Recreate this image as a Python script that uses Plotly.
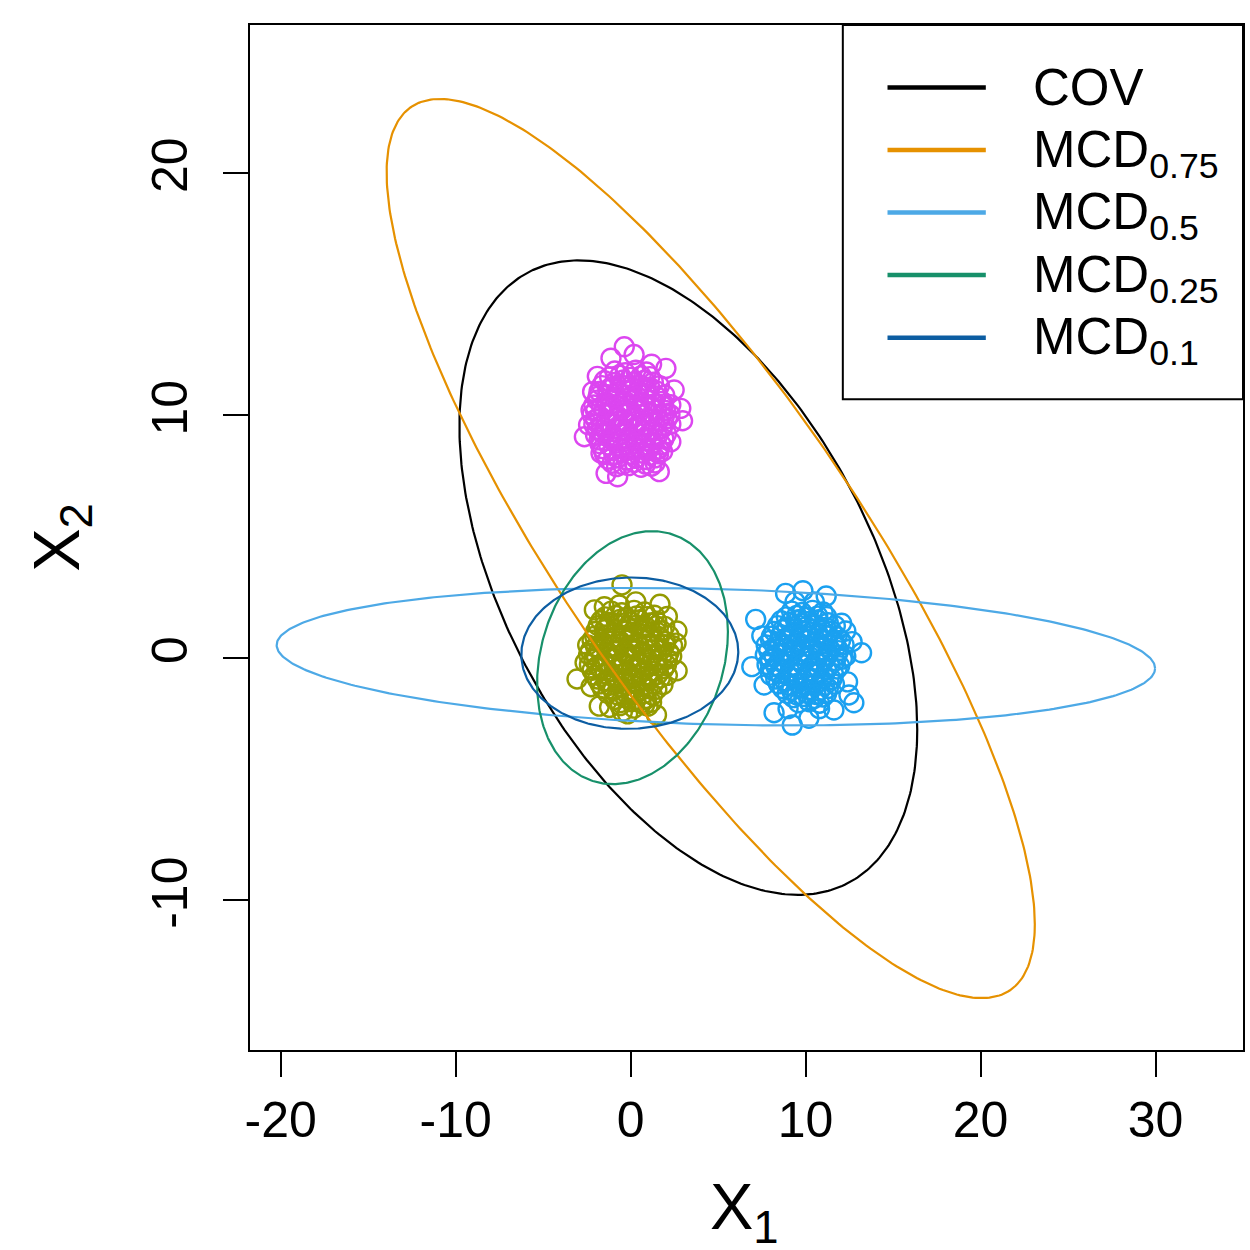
import numpy as np
import plotly.graph_objects as go

# cluster around (0, 0) - olive
olive_x = [-1.1, -0.5, 0.2, 0.8,
           -1.7, -1.2, -0.6, 0.0, 0.5, 1.1, 1.5,
           -2.0, -1.5, -0.9, -0.4, 0.1, 0.7, 1.2, 1.8,
           -2.2, -1.6, -1.1, -0.6, -0.1, 0.4, 0.9, 1.4, 2.0,
           -2.3, -1.8, -1.3, -0.8, -0.3, 0.2, 0.7, 1.2, 1.7, 2.2,
           -2.1, -1.5, -1.0, -0.5, 0.0, 0.5, 1.0, 1.5, 2.1,
           -2.2, -1.7, -1.2, -0.7, -0.2, 0.3, 0.8, 1.3, 1.9,
           -1.9, -1.4, -0.9, -0.4, 0.1, 0.6, 1.1, 1.7,
           -1.6, -1.0, -0.5, 0.0, 0.5, 1.0, 1.5,
           -0.9, -0.3, 0.3, 0.9,
           -1.2, -0.6, 0.2, 0.8,
           -1.45, -0.85, -0.25, 0.35, 0.95, 1.35,
           -1.85, -1.35, -0.75, -0.15, 0.35, 0.9, 1.45, 1.95,
           -2.05, -1.45, -0.85, -0.35, 0.15, 0.65, 1.15, 1.65, 2.2,
           -2.45, -2.0, -1.55, -1.05, -0.55, -0.05, 0.45, 0.95, 1.45, 1.95, 2.4,
           -2.4, -1.95, -1.25, -0.75, -0.25, 0.25, 0.75, 1.25, 1.8, 2.35,
           -2.35, -1.9, -1.45, -0.95, -0.45, 0.05, 0.55, 1.05, 1.55, 2.05,
           -2.05, -1.45, -0.95, -0.45, 0.05, 0.55, 1.05, 1.55, 2.1,
           -1.75, -1.2, -0.7, -0.2, 0.3, 0.8, 1.3, 1.85,
           -1.3, -0.75, -0.25, 0.25, 0.75, 1.25,
           -0.6, 0.05, 0.6, 1.2,
           -0.49, 1.68, 2.10, 2.65, 2.60, 2.66, -3.06, -2.26, -1.79, 1.48,
           -0.17, -0.47, -0.65, -2.07, -1.50, 0.30, 1.00, -2.60]
olive_y = [1.92, 1.85, 1.95, 1.88,
           1.52, 1.45, 1.58, 1.47, 1.55, 1.43, 1.50,
           1.08, 1.15, 1.02, 1.12, 1.05, 1.18, 1.07, 1.10,
           0.72, 0.65, 0.78, 0.68, 0.75, 0.62, 0.73, 0.69, 0.66,
           0.28, 0.35, 0.22, 0.31, 0.26, 0.38, 0.24, 0.33, 0.29, 0.21,
           -0.08, -0.15, -0.05, -0.12, -0.02, -0.18, -0.09, -0.13, -0.06,
           -0.52, -0.45, -0.58, -0.48, -0.55, -0.42, -0.51, -0.57, -0.46,
           -0.88, -0.95, -0.85, -0.92, -0.87, -0.98, -0.90, -0.84,
           -1.28, -1.35, -1.25, -1.32, -1.38, -1.27, -1.30,
           -1.72, -1.65, -1.75, -1.68,
           -2.05, -1.98, -2.08, -1.95,
           1.68, 1.74, 1.66, 1.72, 1.69, 1.75,
           1.32, 1.26, 1.35, 1.28, 1.34, 1.25, 1.31, 1.29,
           0.88, 0.94, 0.85, 0.92, 0.87, 0.95, 0.89, 0.86, 0.91,
           0.52, 0.45, 0.55, 0.48, 0.54, 0.46, 0.51, 0.56, 0.47, 0.53, 0.49,
           0.12, 0.05, 0.14, 0.07, 0.11, 0.04, 0.13, 0.08, 0.10, 0.06,
           -0.28, -0.35, -0.26, -0.33, -0.29, -0.36, -0.27, -0.31, -0.34, -0.30,
           -0.72, -0.66, -0.75, -0.68, -0.74, -0.65, -0.71, -0.69, -0.73,
           -1.08, -1.14, -1.05, -1.12, -1.06, -1.15, -1.09, -1.11,
           -1.48, -1.54, -1.46, -1.52, -1.49, -1.55,
           -1.86, -1.82, -1.88, -1.84,
           3.00, 2.20, 1.70, 1.10, 0.60, -0.54, -0.88, -1.20, -2.00, -2.36,
           -2.32, -2.23, 2.17, 1.97, 2.10, 2.30, -2.00, -0.20]

# cluster around (10, 0) - blue
blue_x = [9.2, 9.8, 10.4, 11.0,
          8.6, 9.1, 9.6, 10.1, 10.7, 11.3,
          8.2, 8.7, 9.3, 9.8, 10.3, 10.9, 11.5,
          8.0, 8.5, 9.0, 9.5, 10.0, 10.5, 11.0, 11.6, 12.0,
          7.9, 8.4, 8.9, 9.4, 9.9, 10.4, 10.9, 11.4, 11.9,
          8.0, 8.5, 9.0, 9.6, 10.1, 10.6, 11.1, 11.7, 12.1,
          8.1, 8.6, 9.1, 9.6, 10.2, 10.7, 11.2, 11.8,
          8.3, 8.8, 9.3, 9.9, 10.4, 10.9, 11.5,
          8.7, 9.2, 9.8, 10.3, 10.8, 11.3,
          9.3, 9.9, 10.5, 11.0,
          8.9, 9.5, 10.1, 10.7, 11.2,
          8.4, 8.95, 9.55, 10.05, 10.6, 11.15, 11.7,
          8.05, 8.6, 9.15, 9.65, 10.15, 10.7, 11.25, 11.8,
          7.75, 8.25, 8.75, 9.25, 9.75, 10.25, 10.75, 11.25, 11.75, 12.2,
          7.7, 8.2, 8.7, 9.2, 9.7, 10.25, 10.75, 11.25, 11.8, 12.3,
          7.8, 8.3, 8.8, 9.35, 9.85, 10.35, 10.85, 11.4, 11.95,
          8.0, 8.5, 9.05, 9.55, 10.05, 10.55, 11.05, 11.6,
          8.45, 9.0, 9.55, 10.05, 10.6, 11.1, 11.65,
          8.95, 9.5, 10.05, 10.6, 11.2,
          9.6, 10.2, 10.8,
          8.86, 9.85, 11.18, 7.15, 12.06, 13.20, 6.93, 7.63, 8.20, 9.24,
          10.19, 11.62, 12.76, 12.48, 12.66, 9.40, 10.50, 12.40, 7.50, 12.30,
          9.00, 10.80]
blue_y = [1.92, 1.86, 1.95, 1.88,
          1.52, 1.46, 1.57, 1.48, 1.55, 1.44,
          1.08, 1.15, 1.04, 1.12, 1.06, 1.17, 1.09,
          0.72, 0.66, 0.78, 0.68, 0.75, 0.63, 0.74, 0.69, 0.71,
          0.28, 0.35, 0.23, 0.32, 0.26, 0.37, 0.24, 0.33, 0.29,
          -0.08, -0.15, -0.05, -0.12, -0.02, -0.17, -0.09, -0.13, -0.06,
          -0.52, -0.45, -0.57, -0.48, -0.55, -0.42, -0.51, -0.47,
          -0.88, -0.95, -0.85, -0.92, -0.87, -0.97, -0.90,
          -1.28, -1.35, -1.25, -1.32, -1.37, -1.27,
          -1.65, -1.60, -1.68, -1.62,
          1.68, 1.74, 1.66, 1.72, 1.69,
          1.32, 1.26, 1.35, 1.28, 1.34, 1.25, 1.31,
          0.88, 0.94, 0.85, 0.92, 0.87, 0.95, 0.89, 0.86,
          0.52, 0.45, 0.55, 0.48, 0.54, 0.46, 0.51, 0.56, 0.47, 0.53,
          0.12, 0.05, 0.14, 0.07, 0.11, 0.04, 0.13, 0.08, 0.10, 0.06,
          -0.28, -0.35, -0.26, -0.33, -0.29, -0.36, -0.27, -0.31, -0.34,
          -0.72, -0.66, -0.75, -0.68, -0.74, -0.65, -0.71, -0.69,
          -1.08, -1.14, -1.05, -1.12, -1.06, -1.15, -1.09,
          -1.48, -1.54, -1.46, -1.52, -1.49,
          -1.86, -1.82, -1.88,
          2.65, 2.76, 2.54, 1.58, 1.42, 0.20, -0.37, -1.13, -2.27, -2.78,
          -2.50, -2.16, -1.86, -1.54, 0.66, 2.30, 2.30, -1.00, 0.90, 1.10,
          -2.10, -2.10]

# cluster around (0, 10) - magenta
mag_x = [-0.9, -0.3, 0.3, 0.9,
         -1.5, -0.9, -0.4, 0.2, 0.8, 1.3,
         -1.8, -1.3, -0.7, -0.2, 0.4, 0.9, 1.5,
         -1.9, -1.4, -0.9, -0.3, 0.2, 0.7, 1.2, 1.8,
         -2.0, -1.5, -1.0, -0.5, 0.0, 0.5, 1.0, 1.5, 2.0,
         -2.0, -1.4, -0.9, -0.4, 0.1, 0.6, 1.1, 1.6, 2.1,
         -1.9, -1.4, -0.8, -0.3, 0.2, 0.7, 1.3, 1.8,
         -1.8, -1.2, -0.7, -0.2, 0.3, 0.8, 1.4, 1.9,
         -1.6, -1.0, -0.5, 0.0, 0.5, 1.0, 1.6,
         -1.3, -0.7, -0.2, 0.3, 0.9, 1.4,
         -0.8, -0.1, 0.6, 1.2,
         -1.2, -0.6, 0.0, 0.6, 1.1,
         -1.65, -1.1, -0.55, 0.0, 0.55, 1.1, 1.65,
         -1.85, -1.3, -0.75, -0.2, 0.35, 0.9, 1.45, 1.95,
         -2.1, -1.65, -1.15, -0.65, -0.15, 0.35, 0.85, 1.35, 1.85, 2.3,
         -2.2, -1.75, -1.25, -0.75, -0.25, 0.25, 0.75, 1.25, 1.75, 2.25,
         -2.1, -1.65, -1.15, -0.65, -0.15, 0.35, 0.85, 1.35, 1.85, 2.3,
         -2.0, -1.6, -1.05, -0.55, -0.05, 0.45, 1.0, 1.55, 2.05,
         -1.75, -1.25, -0.75, -0.25, 0.25, 0.75, 1.25, 1.75,
         -1.5, -0.95, -0.45, 0.05, 0.6, 1.15, 1.6,
         -1.05, -0.45, 0.2, 0.85, 1.4,
         -0.36, -1.12, 2.02, 2.49, 2.87, 2.97, -2.64, -2.26, -2.17, 1.83,
         1.64, -1.40, -0.74, -1.69, 0.20, -1.90, 1.20, -2.40, 2.30]
mag_y = [11.82, 11.75, 11.85, 11.78,
         11.42, 11.35, 11.45, 11.37, 11.44, 11.36,
         10.98, 11.05, 10.95, 11.02, 10.97, 11.06, 10.99,
         10.62, 10.55, 10.66, 10.58, 10.64, 10.52, 10.61, 10.57,
         10.18, 10.25, 10.15, 10.22, 10.17, 10.26, 10.14, 10.21, 10.19,
         9.82, 9.75, 9.85, 9.77, 9.84, 9.73, 9.81, 9.78, 9.86,
         9.42, 9.35, 9.46, 9.37, 9.43, 9.34, 9.41, 9.45,
         8.98, 9.05, 8.95, 9.03, 8.96, 9.06, 8.99, 9.02,
         8.62, 8.55, 8.65, 8.57, 8.63, 8.54, 8.60,
         8.18, 8.25, 8.15, 8.22, 8.17, 8.24,
         7.88, 7.92, 7.85, 7.90,
         11.58, 11.64, 11.56, 11.62, 11.59,
         11.22, 11.16, 11.25, 11.18, 11.24, 11.15, 11.21,
         10.78, 10.84, 10.75, 10.82, 10.77, 10.85, 10.79, 10.83,
         10.42, 10.35, 10.45, 10.38, 10.44, 10.36, 10.41, 10.46, 10.37, 10.43,
         10.02, 9.95, 10.05, 9.97, 10.04, 9.96, 10.01, 10.06, 9.98, 10.03,
         9.62, 9.55, 9.65, 9.57, 9.64, 9.56, 9.61, 9.66, 9.58, 9.63,
         9.18, 9.24, 9.15, 9.22, 9.17, 9.25, 9.19, 9.16, 9.23,
         8.82, 8.76, 8.85, 8.78, 8.84, 8.75, 8.81, 8.79,
         8.42, 8.36, 8.45, 8.38, 8.44, 8.35, 8.41,
         8.02, 7.96, 8.05, 7.98, 8.03,
         12.82, 12.35, 11.93, 11.04, 10.28, 9.77, 9.11, 10.21, 10.97, 8.50,
         7.67, 7.60, 7.46, 8.43, 12.50, 11.60, 12.10, 9.60, 8.90]

# location / scatter estimates (97.5% tolerance ellipses)
est_names = ["COV", "MCD<sub>0.75</sub>", "MCD<sub>0.5</sub>",
             "MCD<sub>0.25</sub>", "MCD<sub>0.1</sub>"]
est_colors = ["#000000", "#E69100", "#4DA9E6", "#17906A", "#0C5DA2"]
est_center = [(3.30, 3.30), (4.58, 4.50), (4.875, 0.04), (0.11, 0.00), (-0.045, 0.185)]
est_cov = [[[23.2, -11.1], [-11.1, 23.2]],
           [[46.5, -38.9], [-38.9, 46.6]],
           [[85.4, -1.63], [-1.63, 1.09]],
           [[4.03, 0.79], [0.79, 3.69]],
           [[5.21, 0.05], [0.05, 1.32]]]
chi2_975 = 7.3778

x_ticks = [-20, -10, 0, 10, 20, 30]
x_ticklabels = ["-20", "-10", "0", "10", "20", "30"]
y_ticks = [-10, 0, 10, 20]
y_ticklabels = ["-10", "0", "10", "20"]

font = "Liberation Sans, Arial, sans-serif"

fig = go.Figure()

for xs, ys, col in [(olive_x, olive_y, "#949A00"),
                    (blue_x, blue_y, "#1AA0F0"),
                    (mag_x, mag_y, "#DC46F0")]:
    fig.add_trace(go.Scatter(
        x=xs, y=ys, mode="markers", showlegend=False, hoverinfo="skip",
        marker=dict(symbol="circle-open", size=19, color=col, line=dict(width=2.4)),
    ))

t = np.linspace(0, 2 * np.pi, 400)
circle = np.vstack([np.cos(t), np.sin(t)])
for name, col, mu, S in zip(est_names, est_colors, est_center, est_cov):
    L = np.linalg.cholesky(np.array(S))
    pts = np.sqrt(chi2_975) * L @ circle
    fig.add_trace(go.Scatter(
        x=pts[0] + mu[0], y=pts[1] + mu[1], mode="lines", name=name,
        line=dict(color=col, width=2.2), showlegend=False, hoverinfo="skip",
    ))

# legend box drawn by hand (R style)
shapes = [dict(type="rect", xref="paper", yref="paper", x0=0.597, x1=1, y0=0.635, y1=1,
               line=dict(color="black", width=2))]
annotations = []
row_y = [0.939, 0.878, 0.817, 0.756, 0.695]
for name, col, yy in zip(est_names, est_colors, row_y):
    shapes.append(dict(type="line", xref="paper", yref="paper", x0=0.642, x1=0.741,
                       y0=yy, y1=yy, line=dict(color=col, width=4.5)))
    annotations.append(dict(xref="paper", yref="paper", x=0.787, y=yy, text=name,
                            showarrow=False, xanchor="left", yanchor="middle",
                            yshift=0 if name == "COV" else -3,
                            font=dict(size=51, color="black", family=font)))

annotations.append(dict(xref="paper", yref="paper", x=0.4975, y=-0.158, text="X<sub>1</sub>",
                        showarrow=False, xanchor="center", yanchor="middle",
                        font=dict(size=65, color="black", family=font)))
annotations.append(dict(xref="paper", yref="paper", x=-0.19, y=0.5, text="X<sub>2</sub>",
                        showarrow=False, xanchor="center", yanchor="middle", textangle=-90,
                        font=dict(size=65, color="black", family=font)))

axis_common = dict(showgrid=False, zeroline=False, showline=True, mirror=True,
                   linecolor="black", linewidth=2, ticks="outside", ticklen=25,
                   tickwidth=2, tickcolor="black",
                   tickfont=dict(size=50, color="black", family=font))

fig.update_layout(
    width=1250, height=1250, autosize=False,
    margin=dict(l=250, r=5, t=25, b=200),
    paper_bgcolor="white", plot_bgcolor="white",
    xaxis=dict(range=[-21.75, 35.0], tickvals=x_ticks, ticktext=x_ticklabels, **axis_common),
    yaxis=dict(range=[-16.18, 26.09], tickvals=y_ticks, ticktext=y_ticklabels,
               tickangle=-90, ticklabelstandoff=16, **axis_common),
    shapes=shapes, annotations=annotations,
)

fig.write_html("out.html", config={"displayModeBar": False},
               post_script="document.body.style.margin='0px';")
